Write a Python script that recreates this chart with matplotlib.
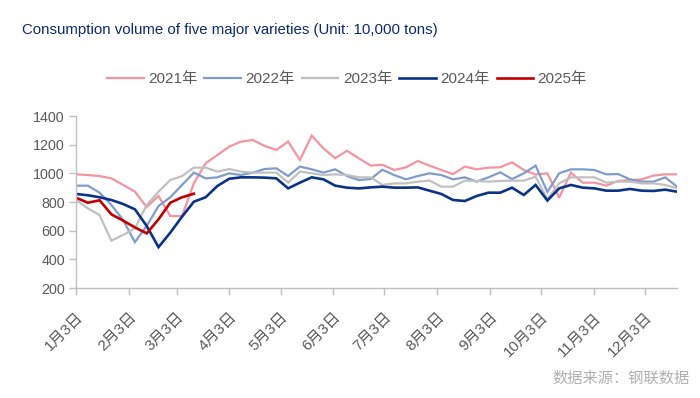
import matplotlib
matplotlib.use("Agg")
import matplotlib.pyplot as plt

plt.rcParams['font.family'] = ['Liberation Sans', 'Noto Sans CJK SC', 'DejaVu Sans']

title = "Consumption volume of five major varieties (Unit: 10,000 tons)"
source = "数据来源：钢联数据"
tick_labels = ["1月3日", "2月3日", "3月3日", "4月3日", "5月3日", "6月3日",
               "7月3日", "8月3日", "9月3日", "10月3日", "11月3日", "12月3日"]
tick_days = [0, 31, 59, 90, 120, 151, 181, 212, 243, 273, 304, 334]
series_names = ["2021年", "2022年", "2023年", "2024年", "2025年"]

y2021 = [993, 988, 981, 965, 919, 872, 765, 842, 702, 702, 930, 1070, 1128, 1186,
         1221, 1233, 1191, 1163, 1221, 1093, 1263, 1174, 1105, 1158, 1105, 1054,
         1060, 1023, 1042, 1086, 1054, 1023, 995, 1047, 1028, 1040, 1042, 1077,
         1023, 992, 1000, 830, 1005, 935, 935, 914, 947, 953, 958, 984, 993, 993]
y2022 = [914, 914, 865, 779, 674, 520, 633, 772, 833, 919, 1005, 965, 972, 1000,
         988, 1005, 1030, 1035, 981, 1047, 1028, 1005, 1028, 981, 953, 960,
         1025, 988, 958, 981, 1000, 988, 958, 972, 942, 972, 1007, 960, 1000, 1054,
         870, 1000, 1028, 1028, 1023, 993, 995, 958, 942, 942, 972, 907]
y2023 = [814, 756, 709, 530, 570, 616, 779, 872, 953, 981, 1040, 1040, 1012, 1030,
         1012, 1005, 1005, 1005, 935, 1012, 1000, 988, 993, 988, 972, 972,
         919, 930, 930, 942, 949, 907, 907, 949, 947, 942, 947, 949, 949, 977,
         820, 930, 972, 972, 972, 935, 942, 942, 930, 930, 919, 895]
y2024 = [856, 847, 833, 814, 786, 749, 633, 485, 586, 698, 802, 833, 912, 962,
         972, 972, 970, 965, 895, 935, 972, 958, 914, 900, 895, 902,
         907, 900, 900, 902, 879, 856, 814, 807, 842, 865, 865, 900, 849, 919,
         810, 895, 919, 900, 895, 879, 879, 891, 879, 877, 886, 872]
y2025 = [830, 795, 812, 714, 670, 623, 581, 679, 795, 833, 858]

colors = ["#F4949F", "#7F9CCB", "#C0C0C0", "#0A3286", "#C00000"]
widths = [1.6, 1.6, 1.6, 1.9, 1.9]

fig = plt.figure(figsize=(7, 3.98), dpi=100)
ax = fig.add_axes([76/700, 1-288/398, (677-76)/700, (288-116)/398])

day_per_idx = 6.915
for ys, c, lw, name in zip([y2021, y2022, y2023, y2024, y2025], colors, widths, series_names):
    ax.plot(range(len(ys)), ys, color=c, lw=lw, label=name, solid_joinstyle='miter')

ax.set_xlim(0, 51)
ax.set_ylim(200, 1400)
ax.set_yticks(range(200, 1401, 200))
ax.set_xticks([d / day_per_idx for d in tick_days])
ax.set_xticklabels(tick_labels, rotation=45, ha='right', va='top', rotation_mode='anchor')

for s in ['top', 'right']:
    ax.spines[s].set_visible(False)
for s in ['left', 'bottom']:
    ax.spines[s].set_color('#BFBFBF')
    ax.spines[s].set_linewidth(1.0)
ax.tick_params(axis='both', colors='#BFBFBF', length=5, width=1.0, labelcolor='#595959')
ax.tick_params(axis='y', labelsize=10.3, pad=3)
ax.tick_params(axis='x', labelsize=11, pad=11)

fig.text(22/700, 1-30/398, title, fontsize=10.8, color='#0D2A6E', ha='left', va='center')
fig.text(690/700, 1-378/398, source, fontsize=11, color='#B0B0B0', ha='right', va='center',
         family=['Noto Sans CJK SC'])

leg = fig.legend(loc='center', bbox_to_anchor=(347/700, 1-79/398), ncol=5, frameon=False,
                 fontsize=11, handlelength=2.4, columnspacing=0.45, handletextpad=0.3)
for t in leg.get_texts():
    t.set_color('#595959')

fig.savefig("out.png", dpi=100)
